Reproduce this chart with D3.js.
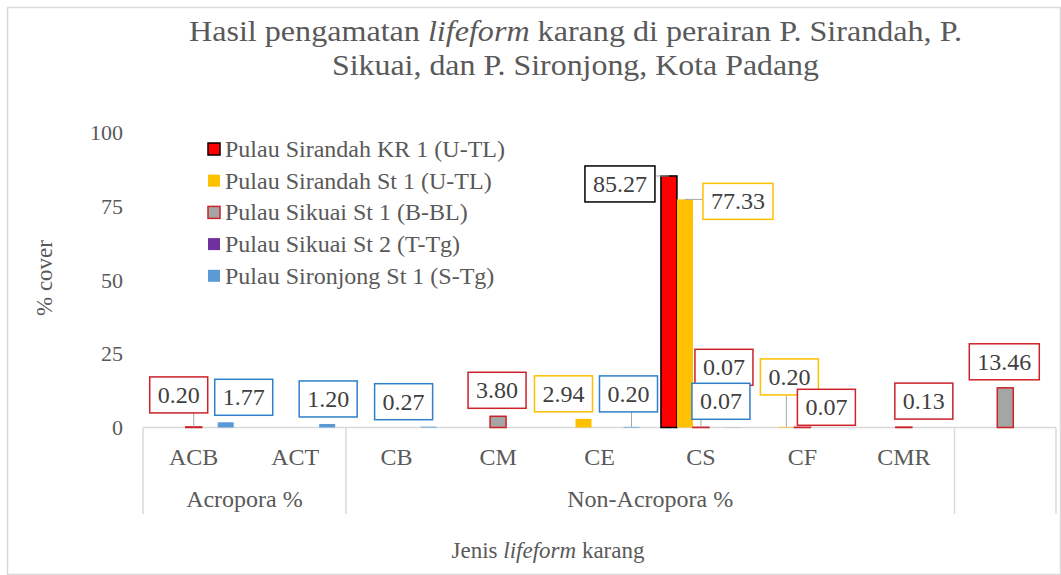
<!DOCTYPE html>
<html>
<head>
<meta charset="utf-8">
<script src="https://cdn.jsdelivr.net/npm/d3@7"></script>
<style>
  body { margin: 0; background: #fff; }
  text { font-family: "Liberation Serif", "Times New Roman", serif; fill: #595959; }
</style>
</head>
<body>
<svg id="chart" width="1061" height="575"></svg>
<script>
// categories on the x axis (last one has no label in the original)
var categories = ["ACB", "ACT", "CB", "CM", "CE", "CS", "CF", "CMR", ""];
var groupNames = ["Acropora %", "Non-Acropora %", ""];
var groupOf = [0, 0, 1, 1, 1, 1, 1, 1, 2];

var seriesNames = ["Pulau Sirandah KR 1 (U-TL)", "Pulau Sirandah St 1 (U-TL)", "Pulau Sikuai St 1 (B-BL)", "Pulau Sikuai St 2 (T-Tg)", "Pulau Sironjong St 1 (S-Tg)"];
var sirandahKR1 = [null, null, null, null, null, 85.27, null, null, null];
var sirandahSt1 = [null, null, null, null, 2.94, 77.33, 0.20, null, null];
var sikuaiSt1   = [0.20, null, null, 3.80, null, 0.07, 0.07, 0.13, 13.46];
var sikuaiSt2   = [null, null, null, null, null, null, null, null, null];
var sironjongSt1 = [1.77, 1.20, 0.27, null, 0.20, 0.07, null, null, null];
var yTicks = [0, 25, 50, 75, 100];

var allSeries = [sirandahKR1, sirandahSt1, sikuaiSt1, sikuaiSt2, sironjongSt1];
var fills   = ["#FF0000", "#FFC000", "#A5A5A5", "#7030A0", "#5B9BD5"];
var strokes = ["#000000", "none", "#CC2229", "none", "none"];
var labelBorder = ["#000000", "#FFC000", "#CC2229", "#7030A0", "#2E80C8"];

// where each data label box sits relative to the top of its bar (px)
var labelOffsets = {
  "2|0": [-15, -32], "4|0": [18, -25], "4|1": [1, -25], "4|2": [-25, -25],
  "2|3": [-1, -26], "1|4": [-20, -25], "4|4": [-3, -33],
  "0|5": [-49, 8], "1|5": [53, 2], "2|5": [23, -60], "4|5": [-12, -26],
  "1|6": [3, -50], "2|6": [24, -20], "2|7": [20, -26], "2|8": [-1, -26]
};

var svg = d3.select("#chart");

// outer chart border
svg.append("rect").attr("x", 7.5).attr("y", 7.5).attr("width", 1053).attr("height", 567)
  .attr("fill", "none").attr("stroke", "#d9d9d9").attr("stroke-width", 1.5);

var plotLeft = 143, plotRight = 1056, plotTop = 132.5, plotBottom = 427.5;

var x0 = d3.scaleBand().domain(d3.range(categories.length)).range([plotLeft, plotRight]).padding(0);
var x1 = d3.scaleBand().domain(d3.range(allSeries.length)).range([0, x0.bandwidth()])
  .paddingInner(0).paddingOuter(0.67);
var y = d3.scaleLinear().domain([0, 100]).range([plotBottom, plotTop]);

// title
var title = svg.append("g");
var t1 = title.append("text").attr("x", 189).attr("y", 41).style("font-size", "30px")
  .attr("textLength", 773).attr("lengthAdjust", "spacingAndGlyphs");
t1.append("tspan").text("Hasil  pengamatan  ");
t1.append("tspan").style("font-style", "italic").text("lifeform");
t1.append("tspan").text(" karang  di  perairan  P. Sirandah,  P.");
title.append("text").attr("x", 332).attr("y", 75).style("font-size", "30px")
  .attr("textLength", 487).attr("lengthAdjust", "spacingAndGlyphs")
  .text("Sikuai,  dan P. Sironjong,  Kota Padang");

// y axis (labels only)
var yAxis = svg.append("g").attr("transform", "translate(" + (plotLeft - 4) + ",0)")
  .call(d3.axisLeft(y).tickValues(yTicks).tickSize(0).tickPadding(16));
yAxis.select(".domain").remove();
yAxis.selectAll("text").style("font-size", "22px").style("font-family", "Liberation Serif").attr("fill", "#595959");

svg.append("text").attr("transform", "translate(52,278) rotate(-90)")
  .attr("text-anchor", "middle").style("font-size", "23px").text("% cover");

// baseline
svg.append("line").attr("x1", plotLeft).attr("x2", plotRight).attr("y1", plotBottom).attr("y2", plotBottom)
  .attr("stroke", "#d9d9d9").attr("stroke-width", 1.5);

// category labels
svg.selectAll(".cat").data(categories).enter().append("text")
  .attr("class", "cat")
  .attr("x", (d, i) => x0(i) + x0.bandwidth() / 2)
  .attr("y", 465).attr("text-anchor", "middle").style("font-size", "24px")
  .text(d => d);

// group labels + separators
var groups = groupNames.map(function(g, gi){
  var idx = d3.range(categories.length).filter(i => groupOf[i] == gi);
  return {name: g, start: x0(idx[0]), end: x0(idx[idx.length - 1]) + x0.bandwidth()};
});
svg.selectAll(".grp").data(groups).enter().append("text")
  .attr("class", "grp")
  .attr("x", d => (d.start + d.end) / 2).attr("y", 507)
  .attr("text-anchor", "middle").style("font-size", "24px").text(d => d.name);

var seps = [groups[0].start].concat(groups.map(d => d.end));
svg.selectAll(".sep").data(seps).enter().append("line")
  .attr("x1", d => d).attr("x2", d => d).attr("y1", plotBottom).attr("y2", 514)
  .attr("stroke", "#d9d9d9").attr("stroke-width", 1.5);

svg.append("text").attr("x", 548).attr("y", 558).attr("text-anchor", "middle").style("font-size", "23px")
  .call(function(t){
    t.append("tspan").text("Jenis ");
    t.append("tspan").style("font-style", "italic").text("lifeform");
    t.append("tspan").text(" karang");
  });

// bars
var barData = [];
allSeries.forEach(function(s, si){
  s.forEach(function(v, ci){
    if(v != null) barData.push({s: si, c: ci, v: v});
  });
});

svg.append("g").selectAll("rect").data(barData).enter().append("rect")
  .attr("x", d => x0(d.c) + x1(d.s))
  .attr("width", x1.bandwidth())
  .attr("y", d => y(d.v))
  .attr("height", d => plotBottom - y(d.v))
  .attr("fill", d => fills[d.s])
  .attr("stroke", d => strokes[d.s])
  .attr("stroke-width", 1.5);

// data labels
var leaders = svg.append("g");
var labels = svg.append("g");
barData.forEach(function(d){
  var off = labelOffsets[d.s + "|" + d.c] || [0, -25];
  var px = x0(d.c) + x1(d.s) + x1.bandwidth() / 2;
  var py = y(d.v);
  var cx = px + off[0], cy = py + off[1];
  var g = labels.append("g");
  var txt = g.append("text").attr("x", cx).attr("y", cy + 8).attr("text-anchor", "middle")
    .style("font-size", "24px").style("fill", "#404040")
    .text(d.v.toFixed(2));
  var w = txt.node().getBBox().width + 16, h = 36;
  g.insert("rect", "text").attr("x", cx - w / 2).attr("y", cy - h / 2).attr("width", w).attr("height", h)
    .attr("fill", "#fff").attr("stroke", labelBorder[d.s]).attr("stroke-width", 1.5);
  // leader line when the box is away from the bar
  var qx = Math.max(cx - w / 2, Math.min(px, cx + w / 2));
  var qy = Math.max(cy - h / 2, Math.min(py, cy + h / 2));
  if(Math.hypot(px - qx, py - qy) > 11){
    leaders.append("line").attr("x1", qx).attr("y1", qy).attr("x2", px).attr("y2", py)
      .attr("stroke", "#a6a6a6").attr("stroke-width", 1);
  }
});

// legend
var legend = svg.append("g");
seriesNames.forEach(function(n, i){
  var ly = 149 + i * 31.7;
  legend.append("rect").attr("x", 208).attr("y", ly - 6).attr("width", 12).attr("height", 12)
    .attr("fill", fills[i]).attr("stroke", strokes[i]).attr("stroke-width", 1.5);
  legend.append("text").attr("x", 225).attr("y", ly + 8).style("font-size", "24px").text(n);
});
</script>
</body>
</html>
